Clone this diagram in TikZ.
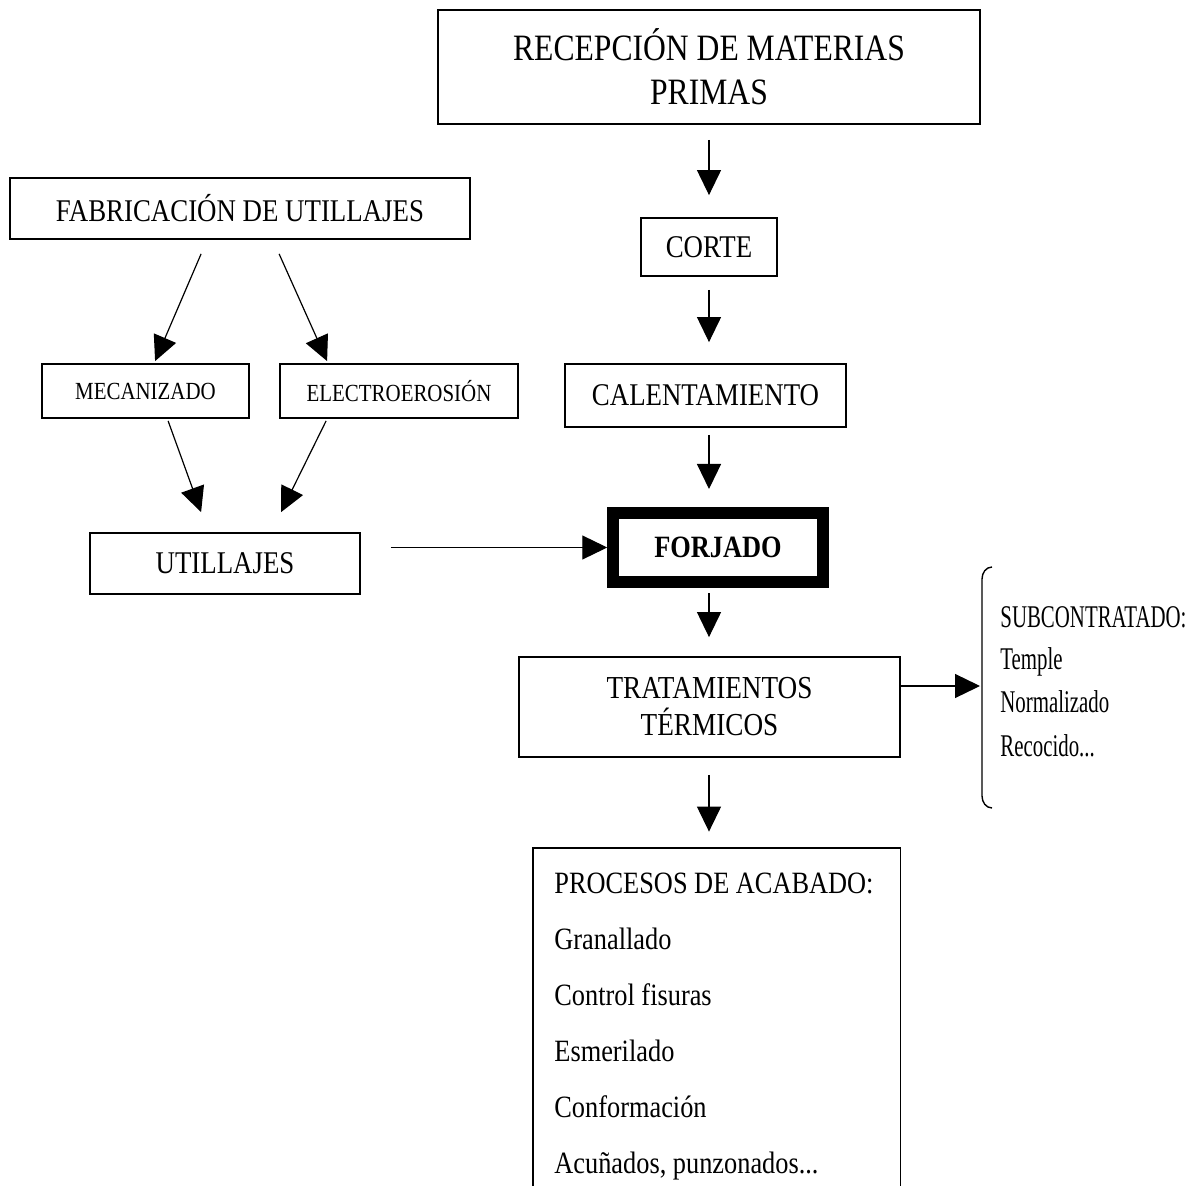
\documentclass[tikz,border=0pt]{standalone}
\usepackage{fontspec}
\setmainfont{Liberation Serif}[FakeStretch=0.85]
\newfontfamily\narrowfont{Liberation Serif}[FakeStretch=0.66]
\usetikzlibrary{arrows.meta,calc}
\begin{document}
\begin{tikzpicture}[x=0.5pt,y=-0.5pt,
  box/.style={draw, line width=0.9pt, inner sep=0pt, align=center,
    font=\fontsize{15.8pt}{18.5pt}\selectfont},
  arr/.style={line width=0.6pt, -{Triangle[length=12.5pt,width=12pt]}},
  listtxt/.style={anchor=base west, inner sep=0pt, font=\fontsize{15.5pt}{18pt}\selectfont},
  bracetxt/.style={anchor=base west, inner sep=0pt, font=\narrowfont\fontsize{15.8pt}{18pt}\selectfont},
]
\useasboundingbox[fill=white] (0,0) rectangle (1203,1186);

% main column
\node[box, minimum width=271pt, minimum height=57pt,
  font=\fontsize{18.6pt}{22pt}\selectfont] (rec) at (709,67) {RECEPCIÓN DE MATERIAS\\PRIMAS};
\node[box, minimum width=68pt, minimum height=29pt] (corte) at (709,247) {CORTE};
\node[box, minimum width=140.5pt, minimum height=31.5pt] (cal) at (705.5,395.5) {CALENTAMIENTO};
\node[box, line width=6pt, minimum width=104.75pt, minimum height=34pt,
  font=\fontsize{15.5pt}{18pt}\selectfont\bfseries] (forj) at (718,547.5) {FORJADO};
\node[box, minimum width=190.5pt, minimum height=50pt,
  font=\fontsize{16pt}{18.5pt}\selectfont] (trat) at (709.5,707) {TRATAMIENTOS\\TÉRMICOS};

% tooling column
\node[box, minimum width=230pt, minimum height=30.5pt] (fab) at (240,208.5) {FABRICACIÓN DE UTILLAJES};
\node[box, minimum width=103.5pt, minimum height=27pt,
  font=\fontsize{12.3pt}{15pt}\selectfont] (mec) at (145.5,391) {MECANIZADO};
\node[box, minimum width=119pt, minimum height=27pt,
  font=\fontsize{12.3pt}{15pt}\selectfont] (elec) at (399,391) {ELECTROEROSIÓN};
\node[box, minimum width=135pt, minimum height=30.5pt] (util) at (225,563.5) {UTILLAJES};

% finishing box (open at the bottom)
\node[inner sep=0pt, minimum width=183.5pt, minimum height=169pt] (proc) at (716.5,1017) {};
\draw[line width=0.9pt] (proc.south west) -- (proc.north west) -- (proc.north east) -- (proc.south east);
\node[listtxt] (p0) at (554,893) {PROCESOS DE ACABADO:};
\node[listtxt] (p1) at (554,949) {Granallado};
\node[listtxt] (p2) at (554,1005) {Control fisuras};
\node[listtxt] (p3) at (554,1061) {Esmerilado};
\node[listtxt] (p4) at (554,1117) {Conformación};
\node[listtxt] (p5) at (554,1173) {Acuñados, punzonados...};

% subcontracted brace and list
\coordinate (br) at (982,686);
\draw[line width=0.7pt] (992,567) to[out=180,in=90] (982,579) -- (982,796) to[out=-90,in=180] (992,808);
\node[bracetxt] (s0) at (1000,627) {SUBCONTRATADO:};
\node[bracetxt] (s1) at (1000,669) {Temple};
\node[bracetxt] (s2) at (1000,712) {Normalizado};
\node[bracetxt] (s3) at (1000,756) {Recocido...};

% vertical arrows
\draw[arr, shorten <=7.5pt, shorten >=11pt] (rec.south) -- (corte.north);
\draw[arr, shorten <=6.5pt, shorten >=10.5pt] (corte.south) -- (corte.south |- cal.north);
\draw[arr, shorten <=3.5pt, shorten >=9.25pt] (corte.south |- cal.south) -- (corte.south |- forj.north);
\draw[arr, shorten <=2.75pt, shorten >=9.5pt] (corte.south |- forj.south) -- (corte.south |- trat.north);
\draw[arr, shorten <=8.5pt, shorten >=8pt] (corte.south |- trat.south) -- (corte.south |- proc.north);

% horizontal arrows
\draw[arr, shorten <=15pt] (util.east |- forj.west) -- (forj.west);
\draw[arr, shorten >=1pt] (trat.east |- br) -- (br);

% diagonal arrows
\draw[arr] ($(fab.south west)+(192,14)$) -- ($(mec.north west)+(114,-2)$);
\draw[arr] ($(fab.south west)+(270,14)$) -- ($(elec.north west)+(48,-2)$);
\draw[arr] ($(mec.south west)+(127,2)$) -- ($(util.north west)+(112,-20)$);
\draw[arr] ($(elec.south west)+(47,2)$) -- ($(util.north west)+(192,-20)$);
\end{tikzpicture}
\end{document}
